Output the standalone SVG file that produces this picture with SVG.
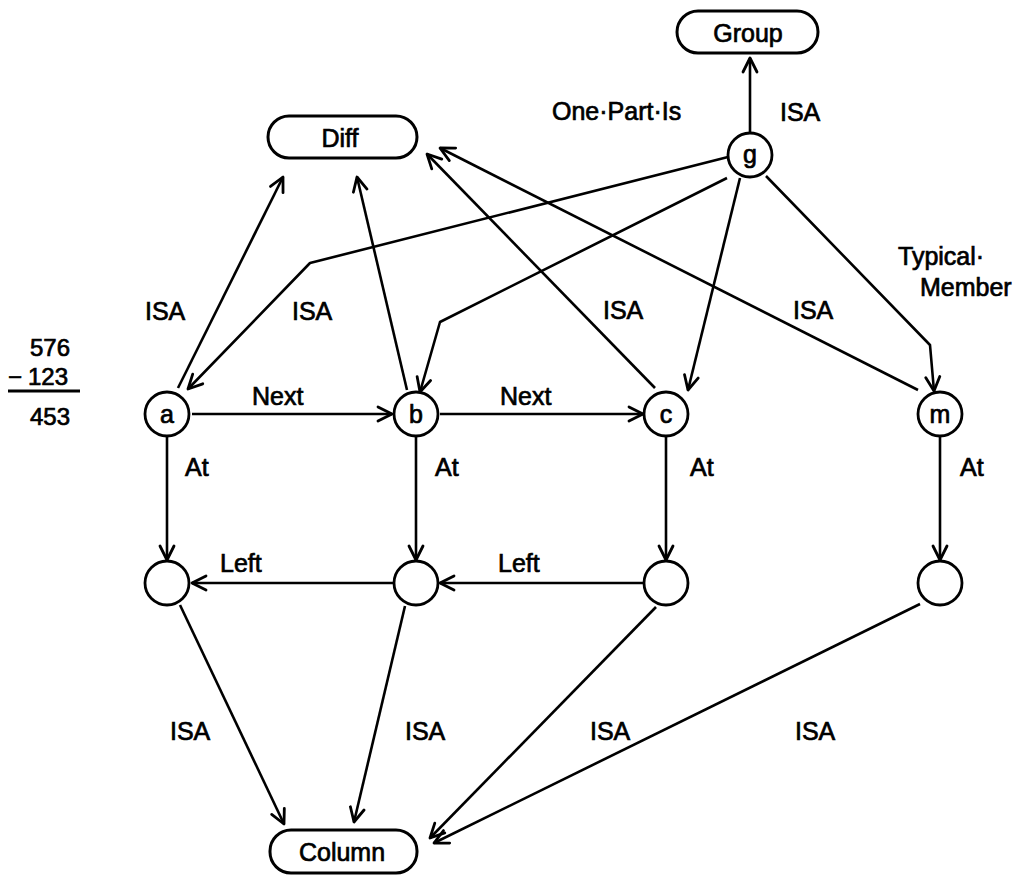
<svg xmlns="http://www.w3.org/2000/svg" width="1017" height="876" viewBox="0 0 1017 876">
  <defs>
    <marker id="arrow" viewBox="0 0 18 18" refX="16" refY="9" markerWidth="18" markerHeight="18" markerUnits="userSpaceOnUse" orient="auto">
      <path d="M2,2 L16,9 L2,16" fill="none" stroke="#000" stroke-width="2.8" stroke-linecap="round" stroke-linejoin="round"/>
    </marker>
  </defs>
  <style>
    text { font-family: "Liberation Sans", Arial, sans-serif; font-size: 25px; fill: #000; stroke: #000; stroke-width: 0.7; }
    .num { font-size: 24px; }
    .box { fill: #fff; stroke: #000; stroke-width: 3; }
    .node { fill: #fff; stroke: #000; stroke-width: 2.8; }
    .edge { fill: none; stroke: #000; stroke-width: 2.6; stroke-linejoin: round; marker-end: url(#arrow); }
    .mid { text-anchor: middle; }
  </style>
  <rect width="1017" height="876" fill="#fff"/>

  <!-- subtraction written at the left -->
  <g id="sum">
    <text class="num" x="30" y="356">576</text>
    <text class="num" x="8" y="385">−<tspan x="28">123</tspan></text>
    <line x1="8" y1="391" x2="80" y2="391" stroke="#000" stroke-width="2.8"/>
    <text class="num" x="30" y="425">453</text>
  </g>

  <!-- connectors -->
  <g id="connectors">
    <path class="edge" d="M750,133 L750,58"/>
    <path class="edge" d="M178,388 L283,177"/>
    <path class="edge" d="M407,390 L357,177"/>
    <path class="edge" d="M655,388 L427,154"/>
    <path class="edge" d="M918,390 L440,148"/>
    <path class="edge" d="M728,157 L310,263 L188,389"/>
    <path class="edge" d="M727,178 L440,322 L420,392"/>
    <path class="edge" d="M740,178 L688,390"/>
    <path class="edge" d="M766,176 L930,345 L934,391"/>
    <path class="edge" d="M192,414 L392,414"/>
    <path class="edge" d="M440,414 L643,414"/>
    <path class="edge" d="M167,437 L167,560"/>
    <path class="edge" d="M416,437 L416,560"/>
    <path class="edge" d="M666,437 L666,560"/>
    <path class="edge" d="M940,437 L940,560"/>
    <path class="edge" d="M393,583 L192,583"/>
    <path class="edge" d="M643,583 L440,583"/>
    <path class="edge" d="M180,605 L284,824"/>
    <path class="edge" d="M405,606 L354,822"/>
    <path class="edge" d="M656,607 L430,838"/>
    <path class="edge" d="M920,604 L434,843"/>
  </g>

  <!-- edge labels -->
  <g id="labels">
    <text x="552" y="120">One·Part·Is</text>
    <text x="780" y="121">ISA</text>
    <text x="898" y="265">Typical·</text>
    <text x="920" y="296">Member</text>
    <text x="145" y="320">ISA</text>
    <text x="292" y="320">ISA</text>
    <text x="603" y="319">ISA</text>
    <text x="793" y="319">ISA</text>
    <text x="252" y="405">Next</text>
    <text x="500" y="405">Next</text>
    <text x="185" y="476">At</text>
    <text x="435" y="476">At</text>
    <text x="690" y="476">At</text>
    <text x="960" y="476">At</text>
    <text x="220" y="572">Left</text>
    <text x="498" y="572">Left</text>
    <text x="170" y="740">ISA</text>
    <text x="405" y="740">ISA</text>
    <text x="590" y="740">ISA</text>
    <text x="795" y="740">ISA</text>
  </g>

  <!-- named concepts -->
  <g id="group">
    <rect class="box" x="677" y="11" width="141" height="42" rx="21"/>
    <text class="mid" x="748" y="42">Group</text>
  </g>
  <g id="diff">
    <rect class="box" x="268" y="116" width="149" height="42" rx="21"/>
    <text class="mid" x="340" y="147">Diff</text>
  </g>
  <g id="column">
    <rect class="box" x="270" y="830" width="147" height="43" rx="21"/>
    <text class="mid" x="342" y="861">Column</text>
  </g>

  <!-- instance nodes -->
  <g id="g">
    <circle class="node" cx="750" cy="155" r="22"/>
    <text class="mid" x="750" y="163">g</text>
  </g>
  <g id="a">
    <circle class="node" cx="167" cy="414" r="22"/>
    <text class="mid" x="167" y="423">a</text>
  </g>
  <g id="b">
    <circle class="node" cx="416" cy="414" r="22"/>
    <text class="mid" x="416" y="423">b</text>
  </g>
  <g id="c">
    <circle class="node" cx="666" cy="414" r="22"/>
    <text class="mid" x="666" y="423">c</text>
  </g>
  <g id="m">
    <circle class="node" cx="940" cy="414" r="22"/>
    <text class="mid" x="940" y="423">m</text>
  </g>

  <!-- column positions -->
  <g id="pa"><circle class="node" cx="167" cy="583" r="22"/></g>
  <g id="pb"><circle class="node" cx="416" cy="583" r="22"/></g>
  <g id="pc"><circle class="node" cx="666" cy="583" r="22"/></g>
  <g id="pm"><circle class="node" cx="940" cy="583" r="22"/></g>
</svg>
